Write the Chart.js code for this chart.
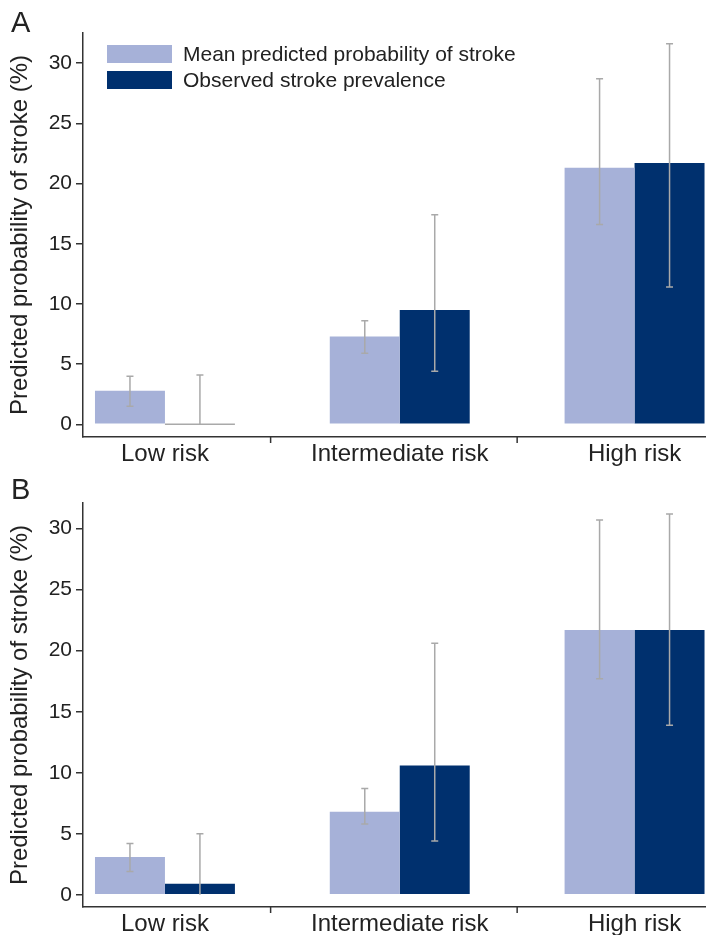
<!DOCTYPE html>
<html>
<head>
<meta charset="utf-8">
<script src="https://cdn.jsdelivr.net/npm/chart.js@4.4.1/dist/chart.umd.min.js"></script>
<style>
  body { margin: 0; background: #fff; font-family: "Liberation Sans", Arial, sans-serif; }
  #wrap { position: relative; width: 710px; height: 935px; overflow: hidden; }
  canvas { position: absolute; left: 0; }
  .panel { position: absolute; left: 11px; font-size: 29px; color: #222; line-height: 1; }
  .legend-row { position: absolute; left: 107px; height: 18px; display: flex; align-items: center; font-size: 21px; color: #222; white-space: nowrap; }
  .sw { width: 65px; height: 18px; margin-right: 11px; flex: none; }
</style>
</head>
<body>
<div id="wrap">
  <canvas id="chartA" width="710" height="467" style="top:0"></canvas>
  <canvas id="chartB" width="710" height="468" style="top:467px"></canvas>
  <div class="panel" style="top:8px">A</div>
  <div class="panel" style="top:475px">B</div>
  <div class="legend-row" style="top:45px"><div class="sw" style="background:#a6b1d8"></div><span id="lg0"></span></div>
  <div class="legend-row" style="top:71px"><div class="sw" style="background:#00306e"></div><span id="lg1"></span></div>
</div>
<script>
const categories = ["Low risk", "Intermediate risk", "High risk"];
const seriesNames = ["Mean predicted probability of stroke", "Observed stroke prevalence"];
const yTicks = [0, 5, 10, 15, 20, 25, 30];
const separators = [0.45, 1.5];

// panel A
const predA = [2.8, 7.3, 21.3];
const predA_lo = [1.5, 5.9, 16.6];
const predA_hi = [4.0, 8.6, 28.7];
const obsA = [0, 9.5, 21.7];
const obsA_lo = [0, 4.4, 11.4];
const obsA_hi = [4.1, 17.4, 31.6];

// panel B
const predB = [3.1, 6.8, 21.7];
const predB_lo = [1.9, 5.8, 17.7];
const predB_hi = [4.2, 8.7, 30.7];
const obsB = [0.9, 10.6, 21.7];
const obsB_lo = [0, 4.4, 13.9];
const obsB_hi = [5.0, 20.6, 31.2];

const lightBlue = "#a6b1d8";
const darkBlue = "#00306e";

document.getElementById("lg0").textContent = seriesNames[0];
document.getElementById("lg1").textContent = seriesNames[1];

Chart.defaults.font.family = '"Liberation Sans", Arial, sans-serif';
Chart.defaults.color = "#222";

// error bars, zero-height bar outlines and the small separator ticks on the x axis
const errorBars = {
  id: "errorBars",
  afterDatasetsDraw(chart) {
    const ctx = chart.ctx;
    const ys = chart.scales.y;
    const xs = chart.scales.x;
    ctx.save();
    ctx.strokeStyle = "#a9a9a9";
    ctx.lineWidth = 1.5;
    chart.data.datasets.forEach((ds, di) => {
      const meta = chart.getDatasetMeta(di);
      meta.data.forEach((bar, i) => {
        if (ds.data[i].y === 0) {
          const y0 = ys.getPixelForValue(0);
          ctx.beginPath();
          ctx.moveTo(bar.x - bar.width / 2, y0);
          ctx.lineTo(bar.x + bar.width / 2, y0);
          ctx.stroke();
        }
        const top = ys.getPixelForValue(ds.errHigh[i]);
        const bot = ys.getPixelForValue(ds.errLow[i]);
        ctx.beginPath();
        ctx.moveTo(bar.x, top);
        ctx.lineTo(bar.x, bot);
        ctx.moveTo(bar.x - 3.5, top);
        ctx.lineTo(bar.x + 3.5, top);
        if (ds.errLow[i] !== 0) {
          ctx.moveTo(bar.x - 3.5, bot);
          ctx.lineTo(bar.x + 3.5, bot);
        }
        ctx.stroke();
      });
    });
    ctx.strokeStyle = "#333";
    ctx.lineWidth = 1.5;
    separators.forEach(v => {
      const px = xs.getPixelForValue(v);
      ctx.beginPath();
      ctx.moveTo(px, xs.top);
      ctx.lineTo(px, xs.top + 6);
      ctx.stroke();
    });
    ctx.restore();
  }
};

function makeChart(id, pred, predLo, predHi, obs, obsLo, obsHi, opts) {
  const ctx = document.getElementById(id).getContext("2d");
  return new Chart(ctx, {
    type: "bar",
    data: {
      datasets: [
        {
          label: seriesNames[0],
          data: pred.map((v, i) => ({ x: i, y: v })),
          errLow: predLo,
          errHigh: predHi,
          backgroundColor: lightBlue,
          borderWidth: 0
        },
        {
          label: seriesNames[1],
          data: obs.map((v, i) => ({ x: i, y: v })),
          errLow: obsLo,
          errHigh: obsHi,
          backgroundColor: darkBlue,
          borderWidth: 0
        }
      ]
    },
    options: {
      responsive: false,
      animation: false,
      categoryPercentage: 0.596,
      barPercentage: 1,
      layout: { padding: { left: 0, top: opts.top, right: 5, bottom: 0 } },
      plugins: {
        legend: { display: false },
        tooltip: { enabled: false }
      },
      scales: {
        x: {
          type: "linear",
          offset: false,
          min: -0.349,
          max: 2.3,
          afterBuildTicks: scale => { scale.ticks = categories.map((c, i) => ({ value: i })); },
          afterFit: scale => { scale.height = opts.xHeight; },
          grid: { display: false, drawTicks: false, offset: false },
          border: { display: true, color: "#333", width: 1.5 },
          ticks: {
            padding: 3,
            maxRotation: 0,
            autoSkip: false,
            font: { size: 24 },
            color: "#222",
            callback: (v, i) => categories[i]
          }
        },
        y: {
          min: opts.yMin,
          max: opts.yMax,
          afterBuildTicks: scale => { scale.ticks = yTicks.map(v => ({ value: v })); },
          afterFit: scale => { scale.width = 83; },
          grid: { drawOnChartArea: false, drawTicks: true, tickLength: 7, color: "#333", lineWidth: 1.5 },
          border: { display: true, color: "#333", width: 1.5 },
          ticks: { padding: 4, font: { size: 21 }, color: "#222" },
          title: {
            display: true,
            text: "Predicted probability of stroke (%)",
            font: { size: 24 },
            color: "#222",
            padding: { top: 6, bottom: 0 }
          }
        }
      }
    },
    plugins: [errorBars]
  });
}

makeChart("chartA", predA, predA_lo, predA_hi, obsA, obsA_lo, obsA_hi,
  { top: 33, xHeight: 30, yMin: -1.05, yMax: 32.5 });
makeChart("chartB", predB, predB_lo, predB_hi, obsB, obsB_lo, obsB_hi,
  { top: 36, xHeight: 28, yMin: -1.0, yMax: 32.1 });
</script>
</body>
</html>
